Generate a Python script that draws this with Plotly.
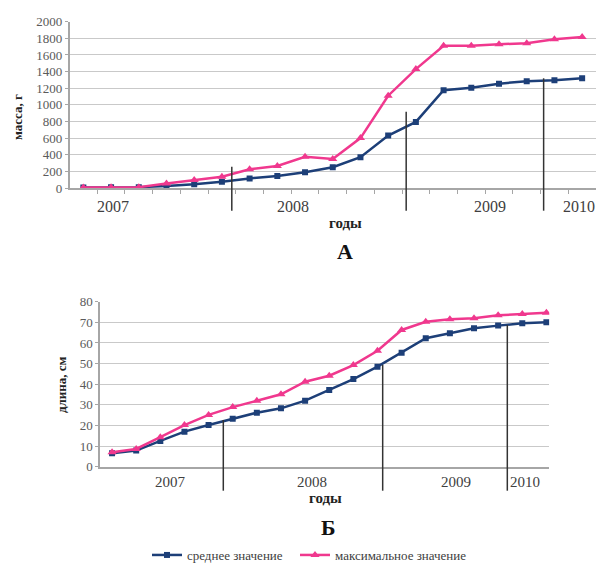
import plotly.graph_objects as go

# ---- data ----
points = list(range(1, 20))
mass_mean = [5, 10, 10, 25, 45, 75, 115, 145, 190, 250, 370, 630, 795, 1175, 1205, 1255, 1285, 1295, 1320]
mass_max = [5, 10, 10, 55, 95, 135, 225, 265, 375, 350, 600, 1110, 1430, 1710, 1710, 1730, 1740, 1790, 1815]
len_mean = [6.5, 7.8, 12.5, 17, 20.2, 23.3, 26.2, 28.3, 32, 37.2, 42.5, 48.5, 55.3, 62.3, 64.7, 67.1, 68.4, 69.5, 70]
len_max = [7, 8.6, 14.3, 20.2, 25.1, 28.9, 32, 35.1, 41.2, 44.1, 49.3, 56.2, 66.3, 70.3, 71.5, 72, 73.4, 74, 74.7]
years = ["2007", "2008", "2009", "2010"]
series_names = ["среднее значение", "максимальное значение"]

W, H = 596, 566
def px(x):
    return x / W
def py(y):
    return (H - y) / H

BLUE = "#1d3f78"
PINK = "#f0388e"
SERIF = "Liberation Serif"

fig = go.Figure()
fig.add_trace(go.Scatter(x=points, y=mass_mean, xaxis="x", yaxis="y", mode="lines+markers",
                         line=dict(color=BLUE, width=2.5), marker=dict(symbol="square", size=6, color=BLUE),
                         name=series_names[0], legendgroup="a", showlegend=True, legend="legend"))
fig.add_trace(go.Scatter(x=points, y=mass_max, xaxis="x", yaxis="y", mode="lines+markers",
                         line=dict(color=PINK, width=2.5), marker=dict(symbol="triangle-up", size=8, color=PINK),
                         name=series_names[1], legendgroup="b", showlegend=True, legend="legend2"))
fig.add_trace(go.Scatter(x=points, y=len_mean, xaxis="x2", yaxis="y2", mode="lines+markers",
                         line=dict(color=BLUE, width=2.5), marker=dict(symbol="square", size=6, color=BLUE),
                         name=series_names[0], legendgroup="a", showlegend=False))
fig.add_trace(go.Scatter(x=points, y=len_max, xaxis="x2", yaxis="y2", mode="lines+markers",
                         line=dict(color=PINK, width=2.5), marker=dict(symbol="triangle-up", size=8, color=PINK),
                         name=series_names[1], legendgroup="b", showlegend=False))

grid = "#c9c9c9"
axline = "#a6a6a6"
tickfont = dict(family=SERIF, size=13, color="#5a5a5a")
legfont = dict(family=SERIF, size=13, color="#404040")

fig.update_layout(
    width=W, height=H,
    margin=dict(l=0, r=0, t=0, b=0, autoexpand=False),
    paper_bgcolor="white", plot_bgcolor="white",
    xaxis=dict(domain=[px(69.5), 1.0], range=[0.5, 19.5], anchor="y",
               tickvals=[i + 0.5 for i in range(1, 19)], showticklabels=False,
               ticks="outside", ticklen=4, tickcolor=axline,
               showgrid=False, showline=True, linecolor=axline, linewidth=1.5, zeroline=False),
    yaxis=dict(domain=[py(188), py(21.7)], range=[0, 2000], dtick=200, anchor="x",
               showgrid=True, gridcolor=grid, gridwidth=1.3,
               ticks="outside", ticklen=3, tickcolor=axline,
               showline=True, linecolor=axline, linewidth=1.5, zeroline=False,
               tickfont=tickfont),
    xaxis2=dict(domain=[px(100), px(549.3)], range=[0.5, 19.12], anchor="y2",
                showticklabels=False, ticks="",
                showgrid=False, showline=True, linecolor=axline, linewidth=1.5, zeroline=False),
    yaxis2=dict(domain=[py(466.7), py(301.7)], range=[0, 80], dtick=10, anchor="x2",
                showgrid=True, gridcolor=grid, gridwidth=1.3,
                ticks="outside", ticklen=3, tickcolor=axline,
                showline=True, linecolor=axline, linewidth=1.5, zeroline=False,
                tickfont=tickfont),
    legend=dict(orientation="h", x=px(147), y=py(555), xanchor="left", yanchor="middle",
                font=legfont, bgcolor="rgba(0,0,0,0)"),
    legend2=dict(orientation="h", x=px(295), y=py(555), xanchor="left", yanchor="middle",
                 font=legfont, bgcolor="rgba(0,0,0,0)"),
    showlegend=True,
)

def ann(text, x, y, font, angle=0):
    return dict(text=text, x=px(x), y=py(y), xref="paper", yref="paper", showarrow=False,
                xanchor="center", yanchor="middle", textangle=angle, font=font)

annotations = []
# year labels chart A
for label, xp in zip(years, [113, 293, 490, 579]):
    annotations.append(ann(label, xp, 206, dict(family=SERIF, size=16, color="#404040")))
# year labels chart Б
for label, xp in zip(years, [170, 312, 456, 525]):
    annotations.append(ann(label, xp, 482, dict(family=SERIF, size=15, color="#404040")))
bold = dict(family=SERIF, size=15, color="#222222")
annotations += [
    ann("<b>годы</b>", 345.5, 223, bold),
    ann("<b>годы</b>", 325, 498, bold),
    ann("<b>масса, г</b>", 17, 117, dict(family=SERIF, size=13, color="#222222"), -90),
    ann("<b>длина, см</b>", 62, 385, dict(family=SERIF, size=13, color="#222222"), -90),
    ann("<b>А</b>", 345, 251, dict(family=SERIF, size=22, color="#111111")),
    ann("<b>Б</b>", 328, 527, dict(family=SERIF, size=22, color="#111111")),
]
fig.update_layout(annotations=annotations)

# year divider lines
shapes = []
for xv, ytop in [(6.357, 166.7), (12.65, 111.7), (17.61, 78.3)]:
    shapes.append(dict(type="line", xref="x", yref="paper", x0=xv, x1=xv, y0=py(210.7), y1=py(ytop),
                       line=dict(color="#333333", width=1.5)))
for xv, ytop in [(5.61, 420), (12.215, 365), (17.38, 325)]:
    shapes.append(dict(type="line", xref="x2", yref="paper", x0=xv, x1=xv, y0=py(490.7), y1=py(ytop),
                       line=dict(color="#333333", width=1.5)))
fig.update_layout(shapes=shapes)

fig.write_html("out.html", config={"displayModeBar": False},
               post_script="document.body.style.margin='0';")
